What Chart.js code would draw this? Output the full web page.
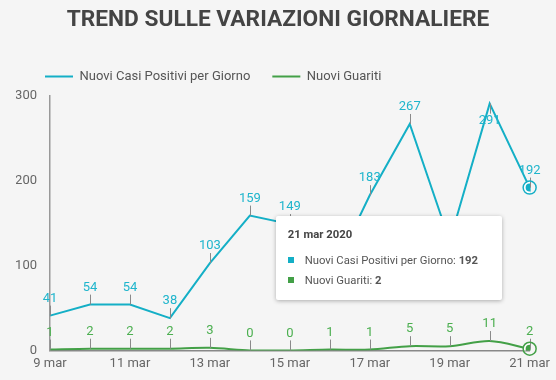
<!DOCTYPE html>
<html>
<head>
<meta charset="utf-8">
<script src="https://cdn.jsdelivr.net/npm/chart.js@4.4.1/dist/chart.umd.min.js"></script>
<style>
  html, body { margin: 0; padding: 0; background: #f5f5f5; }
  #wrap { position: relative; width: 556px; height: 380px; font-family: Roboto, sans-serif; }
  #title {
    position: absolute; left: 0; width: 556px; top: 5px;
    text-align: center; font-weight: bold; font-size: 22.7px; color: #444;
  }
  #tip {
    position: absolute; background: #fff; border-radius: 2px; box-sizing: border-box;
    width: 226px; height: 84px;
    box-shadow: 0 1px 4px rgba(0,0,0,0.3); padding: 12px 0 0 12px;
    font-size: 11.3px; color: #555; white-space: nowrap; display: none;
  }
  #tip .t { font-weight: bold; line-height: 14px; margin-bottom: 9px; color: #444; }
  #tip .row { line-height: 20px; }
  #tip .sq { display: inline-block; width: 6px; height: 6px; margin: 0 11px 1px 0; }
</style>
</head>
<body>
<div id="wrap">
  <div id="title">TREND SULLE VARIAZIONI GIORNALIERE</div>
  <canvas id="c" width="556" height="380"></canvas>
  <div id="tip"></div>
</div>
<script>
// dati giornalieri
const giorni = ['9 mar', '10 mar', '11 mar', '12 mar', '13 mar', '14 mar', '15 mar',
                '16 mar', '17 mar', '18 mar', '19 mar', '20 mar', '21 mar'];
const nuoviCasi = [41, 54, 54, 38, 103, 159, 149, 85, 183, 267, 129, 291, 192];
const nuoviGuariti = [1, 2, 2, 2, 3, 0, 0, 1, 1, 5, 5, 11, 2];
const yTicks = [0, 100, 200, 300];

const CIANO = '#14afc6';
const VERDE = '#43a047';

// etichette sopra i punti con trattino verticale
const etichette = {
    id: 'etichette',
    afterDatasetsDraw(chart) {
        const ctx = chart.ctx;
        const area = chart.chartArea;
        ctx.save();
        ctx.font = '13px Roboto';
        ctx.textAlign = 'center';
        ctx.textBaseline = 'middle';
        chart.data.datasets.forEach((ds, di) => {
            const meta = chart.getDatasetMeta(di);
            meta.data.forEach((pt, i) => {
                const sotto = pt.y - 17 < area.top;
                const dir = sotto ? 1 : -1;
                ctx.strokeStyle = '#8a8a8a';
                ctx.lineWidth = 1;
                ctx.beginPath();
                ctx.moveTo(Math.round(pt.x) + 0.5, pt.y);
                ctx.lineTo(Math.round(pt.x) + 0.5, pt.y + dir * 10);
                ctx.stroke();
                ctx.fillStyle = ds.labelColor;
                ctx.fillText(ds.data[i], pt.x, pt.y + dir * 17);
            });
        });
        // anello esterno sui punti attivi
        chart.getActiveElements().forEach(a => {
            const ds = chart.data.datasets[a.datasetIndex];
            ctx.strokeStyle = ds.borderColor;
            ctx.lineWidth = 1.5;
            ctx.beginPath();
            ctx.arc(a.element.x, a.element.y, 6.5, 0, Math.PI * 2);
            ctx.stroke();
        });
        ctx.restore();
    }
};

// legenda: un po' piu' alta e spostata a destra
const legendaSposta = {
    id: 'legendaSposta',
    beforeLayout(chart) {
        const lg = chart.legend;
        if (!lg._fitPatch) {
            const fit = lg.fit;
            lg.fit = function () { fit.call(this); this.height += 3; };
            lg._fitPatch = true;
        }
    },
    afterLayout(chart) {
        chart.legend.left += 7;
    }
};

function tooltipEsterno(context) {
    const tt = context.tooltip;
    const el = document.getElementById('tip');
    if (tt.opacity === 0) { el.style.display = 'none'; return; }
    const i = tt.dataPoints[0].dataIndex;
    let html = '<div class="t">' + giorni[i] + ' 2020</div>';
    tt.dataPoints.forEach(dp => {
        html += '<div class="row"><span class="sq" style="background:' + dp.dataset.borderColor +
            '"></span>' + dp.dataset.label + ': <b>' + dp.raw + '</b></div>';
    });
    el.innerHTML = html;
    el.style.display = 'block';
    el.style.right = (556 - (tt.caretX - 28)) + 'px';
    el.style.top = Math.round(tt.caretY - 52) + 'px';
}

const chart = new Chart(document.getElementById('c'), {
    type: 'line',
    data: {
        labels: giorni,
        datasets: [{
            label: 'Nuovi Casi Positivi per Giorno',
            data: nuoviCasi,
            borderColor: CIANO,
            backgroundColor: CIANO,
            labelColor: '#1fb5cc',
            borderWidth: 2,
            pointRadius: 0,
            pointHoverRadius: 5,
            pointHoverBackgroundColor: CIANO,
            pointHoverBorderColor: '#fff',
            pointHoverBorderWidth: 2,
            tension: 0
        }, {
            label: 'Nuovi Guariti',
            data: nuoviGuariti,
            borderColor: VERDE,
            backgroundColor: VERDE,
            labelColor: '#4caf50',
            borderWidth: 2,
            pointRadius: 0,
            pointHoverRadius: 5,
            pointHoverBackgroundColor: VERDE,
            pointHoverBorderColor: '#fff',
            pointHoverBorderWidth: 2,
            tension: 0.3
        }]
    },
    options: {
        responsive: false,
        animation: false,
        events: [],
        layout: { padding: { top: 48, left: 16, right: 26, bottom: 2 } },
        interaction: { mode: 'index', intersect: false },
        scales: {
            x: {
                grid: { display: false, drawTicks: false },
                border: { color: '#888', width: 1.5 },
                ticks: {
                    autoSkip: false, maxRotation: 0, padding: 6,
                    color: '#666', font: { family: 'Roboto', size: 13 },
                    callback: (v, i) => (i % 2 === 0 ? giorni[i] : null)
                }
            },
            y: {
                min: 0, max: 300,
                afterBuildTicks: s => { s.ticks = yTicks.map(v => ({ value: v })); },
                afterFit: s => { s.width = 34; },
                grid: { display: false, drawTicks: false },
                border: { color: '#999', width: 1.5 },
                ticks: { padding: 13, color: '#666', font: { family: 'Roboto', size: 13 } }
            }
        },
        plugins: {
            legend: {
                position: 'top',
                align: 'start',
                labels: {
                    usePointStyle: true,
                    pointStyle: 'line',
                    pointStyleWidth: 28,
                    padding: 22,
                    color: '#555',
                    font: { family: 'Roboto', size: 13 }
                }
            },
            tooltip: { enabled: false, external: tooltipEsterno }
        }
    },
    plugins: [etichette, legendaSposta]
});

const attivi = [{ datasetIndex: 0, index: 12 }, { datasetIndex: 1, index: 12 }];
chart.setActiveElements(attivi);
chart.tooltip.setActiveElements(attivi, { x: 530, y: 268 });
chart.update();
</script>
</body>
</html>
